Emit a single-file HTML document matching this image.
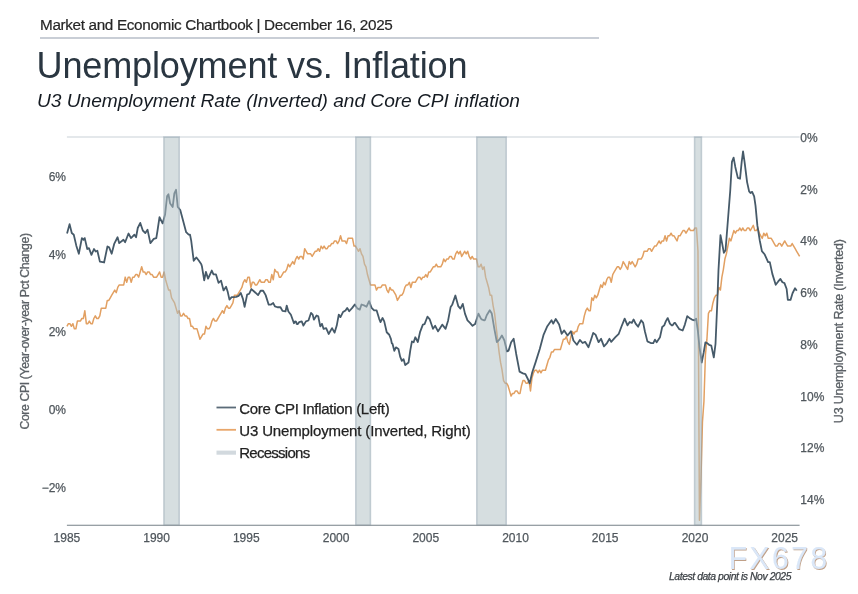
<!DOCTYPE html>
<html><head><meta charset="utf-8"><style>
html,body{margin:0;padding:0;background:#fff;}
svg{display:block;font-family:"Liberation Sans", sans-serif;will-change:transform;}
</style></head><body>
<svg width="858" height="594" viewBox="0 0 858 594">
<rect width="858" height="594" fill="#fff"/>
<text x="40.0" y="29.9" font-size="15.3" fill="#262626" stroke="#262626" stroke-width="0.2" textLength="352.8" lengthAdjust="spacing">Market and Economic Chartbook | December 16, 2025</text>
<rect x="40" y="37" width="559" height="2" fill="#c9ced6"/>
<text x="36.5" y="77.6" font-size="36.1" fill="#2a3641" textLength="431" lengthAdjust="spacing">Unemployment vs. Inflation</text>
<text x="37" y="107.4" font-size="19.2" font-style="italic" fill="#151b22" textLength="483" lengthAdjust="spacing">U3 Unemployment Rate (Inverted) and Core CPI inflation</text>
<rect x="66.9" y="136" width="732.7" height="2" fill="#e4e8eb"/>
<path d="M66.90,326.26 L68.40,323.67 L69.89,323.67 L71.39,326.26 L72.88,323.67 L74.38,328.84 L75.87,328.84 L77.37,321.08 L78.86,321.08 L80.36,321.08 L81.85,318.50 L83.35,318.50 L84.84,310.74 L86.34,323.67 L87.84,323.67 L89.33,321.08 L90.83,323.67 L92.32,323.67 L93.82,318.50 L95.31,315.91 L96.81,318.50 L98.30,318.50 L99.80,315.91 L101.29,308.16 L102.79,308.16 L104.29,308.16 L105.78,308.16 L107.28,300.40 L108.77,300.40 L110.27,297.81 L111.76,295.23 L113.26,292.64 L114.75,290.06 L116.25,292.64 L117.74,287.47 L119.24,284.88 L120.74,284.88 L122.23,284.88 L123.73,284.88 L125.22,277.13 L126.72,282.30 L128.21,277.13 L129.71,277.13 L131.20,282.30 L132.70,277.13 L134.19,277.13 L135.69,274.54 L137.18,274.54 L138.68,277.13 L140.18,271.96 L141.67,266.78 L143.17,271.96 L144.66,271.96 L146.16,274.54 L147.65,271.96 L149.15,271.96 L150.64,274.54 L152.14,274.54 L153.63,277.13 L155.13,277.13 L156.62,277.13 L158.12,274.54 L159.62,271.96 L161.11,277.13 L162.61,277.13 L164.10,271.96 L165.60,279.71 L167.09,284.88 L168.59,290.06 L170.08,290.06 L171.58,297.81 L173.07,300.40 L174.57,302.98 L176.07,308.16 L177.56,313.33 L179.06,310.74 L180.55,315.91 L182.05,315.91 L183.54,313.33 L185.04,315.91 L186.53,315.91 L188.03,318.50 L189.52,318.50 L191.02,326.26 L192.52,326.26 L194.01,328.84 L195.51,328.84 L197.00,328.84 L198.50,334.01 L199.99,339.18 L201.49,336.60 L202.98,334.01 L204.48,334.01 L205.97,326.26 L207.47,328.84 L208.96,328.84 L210.46,326.26 L211.96,321.08 L213.45,318.50 L214.95,321.08 L216.44,321.08 L217.94,318.50 L219.43,315.91 L220.93,313.33 L222.42,310.74 L223.92,313.33 L225.41,308.16 L226.91,305.57 L228.41,308.16 L229.90,308.16 L231.40,305.57 L232.89,302.98 L234.39,295.23 L235.88,295.23 L237.38,295.23 L238.87,292.64 L240.37,290.06 L241.86,287.47 L243.36,282.30 L244.85,279.71 L246.35,282.30 L247.85,277.13 L249.34,277.13 L250.84,287.47 L252.33,282.30 L253.83,282.30 L255.32,284.88 L256.82,284.88 L258.31,282.30 L259.81,279.71 L261.30,282.30 L262.80,282.30 L264.30,282.30 L265.79,279.71 L267.29,279.71 L268.78,282.30 L270.28,282.30 L271.77,274.54 L273.27,279.71 L274.76,269.37 L276.26,271.96 L277.75,271.96 L279.25,277.13 L280.74,277.13 L282.24,274.54 L283.74,271.96 L285.23,271.96 L286.73,269.37 L288.22,264.20 L289.72,266.78 L291.21,264.20 L292.71,261.61 L294.20,264.20 L295.70,259.03 L297.19,256.44 L298.69,259.03 L300.19,256.44 L301.68,256.44 L303.18,259.03 L304.67,248.69 L306.17,251.27 L307.66,253.86 L309.16,253.86 L310.65,253.86 L312.15,256.44 L313.64,253.86 L315.14,251.27 L316.63,251.27 L318.13,248.69 L319.63,251.27 L321.12,246.10 L322.62,248.69 L324.11,246.10 L325.61,248.69 L327.10,248.69 L328.60,246.10 L330.09,246.10 L331.59,243.51 L333.08,243.51 L334.58,240.93 L336.08,240.93 L337.57,243.51 L339.07,240.93 L340.56,235.76 L342.06,240.93 L343.55,240.93 L345.05,240.93 L346.54,243.51 L348.04,238.34 L349.53,238.34 L351.03,238.34 L352.52,238.34 L354.02,246.10 L355.52,246.10 L357.01,248.69 L358.51,251.27 L360.00,248.69 L361.50,253.86 L362.99,256.44 L364.49,264.20 L365.98,266.78 L367.48,274.54 L368.97,279.71 L370.47,284.88 L371.97,284.88 L373.46,284.88 L374.96,284.88 L376.45,290.06 L377.95,287.47 L379.44,287.47 L380.94,287.47 L382.43,284.88 L383.93,284.88 L385.42,284.88 L386.92,290.06 L388.41,292.64 L389.91,287.47 L391.41,290.06 L392.90,290.06 L394.40,292.64 L395.89,295.23 L397.39,300.40 L398.88,297.81 L400.38,295.23 L401.87,295.23 L403.37,292.64 L404.86,287.47 L406.36,284.88 L407.86,284.88 L409.35,282.30 L410.85,287.47 L412.34,282.30 L413.84,282.30 L415.33,282.30 L416.83,279.71 L418.32,277.13 L419.82,277.13 L421.31,279.71 L422.81,277.13 L424.30,277.13 L425.80,274.54 L427.30,277.13 L428.79,271.96 L430.29,271.96 L431.78,269.37 L433.28,266.78 L434.77,266.78 L436.27,264.20 L437.76,266.78 L439.26,266.78 L440.75,266.78 L442.25,264.20 L443.75,259.03 L445.24,261.61 L446.74,259.03 L448.23,259.03 L449.73,256.44 L451.22,256.44 L452.72,259.03 L454.21,259.03 L455.71,253.86 L457.20,251.27 L458.70,253.86 L460.19,251.27 L461.69,256.44 L463.19,253.86 L464.68,251.27 L466.18,253.86 L467.67,251.27 L469.17,256.44 L470.66,259.03 L472.16,256.44 L473.65,259.03 L475.15,259.03 L476.64,259.03 L478.14,266.78 L479.63,266.78 L481.13,264.20 L482.63,269.37 L484.12,266.78 L485.62,277.13 L487.11,282.30 L488.61,287.47 L490.10,295.23 L491.60,295.23 L493.09,305.57 L494.59,313.33 L496.08,326.26 L497.58,339.18 L499.08,352.11 L500.57,362.46 L502.07,370.21 L503.56,380.56 L505.06,383.14 L506.55,383.14 L508.05,385.73 L509.54,390.90 L511.04,396.07 L512.53,393.48 L514.03,393.48 L515.52,390.90 L517.02,390.90 L518.52,393.48 L520.01,393.48 L521.51,385.73 L523.00,380.56 L524.50,380.56 L525.99,383.14 L527.49,383.14 L528.98,380.56 L530.48,390.90 L531.97,377.97 L533.47,372.80 L534.97,370.21 L536.46,370.21 L537.96,372.80 L539.45,370.21 L540.95,372.80 L542.44,370.21 L543.94,370.21 L545.43,370.21 L546.93,365.04 L548.42,359.87 L549.92,357.28 L551.41,352.11 L552.91,352.11 L554.41,349.53 L555.90,349.53 L557.40,349.53 L558.89,349.53 L560.39,349.53 L561.88,344.36 L563.38,339.18 L564.87,339.18 L566.37,336.60 L567.86,341.77 L569.36,344.36 L570.86,336.60 L572.35,331.43 L573.85,334.01 L575.34,331.43 L576.84,331.43 L578.33,326.26 L579.83,323.67 L581.32,323.67 L582.82,323.67 L584.31,315.91 L585.81,310.74 L587.30,308.16 L588.80,310.74 L590.30,310.74 L591.79,297.81 L593.29,300.40 L594.78,295.23 L596.28,297.81 L597.77,295.23 L599.27,290.06 L600.76,284.88 L602.26,287.47 L603.75,282.30 L605.25,284.88 L606.75,279.71 L608.24,277.13 L609.74,277.13 L611.23,282.30 L612.73,274.54 L614.22,271.96 L615.72,269.37 L617.21,266.78 L618.71,266.78 L620.20,269.37 L621.70,266.78 L623.19,261.61 L624.69,264.20 L626.19,266.78 L627.68,269.37 L629.18,261.61 L630.67,264.20 L632.17,261.61 L633.66,264.20 L635.16,266.78 L636.65,264.20 L638.15,259.03 L639.64,259.03 L641.14,259.03 L642.64,256.44 L644.13,251.27 L645.63,251.27 L647.12,251.27 L648.62,248.69 L650.11,248.69 L651.61,251.27 L653.10,248.69 L654.60,246.10 L656.09,246.10 L657.59,243.51 L659.09,240.93 L660.58,243.51 L662.08,240.93 L663.57,240.93 L665.07,235.76 L666.56,240.93 L668.06,235.76 L669.55,235.76 L671.05,233.17 L672.54,235.76 L674.04,235.76 L675.53,238.34 L677.03,240.93 L678.53,235.76 L680.02,235.76 L681.52,233.17 L683.01,230.59 L684.51,230.59 L686.00,233.17 L687.50,230.59 L688.99,228.00 L690.49,230.59 L691.98,230.59 L693.48,230.59 L694.98,228.00 L696.47,228.00 L697.97,251.27 L699.46,520.18 L700.96,478.81 L702.45,421.93 L703.95,401.24 L705.44,354.70 L706.94,339.18 L708.43,313.33 L709.93,310.74 L711.42,310.74 L712.92,302.98 L714.42,297.81 L715.91,295.23 L717.41,295.23 L718.90,287.47 L720.40,290.06 L721.89,277.13 L723.39,269.37 L724.88,259.03 L726.38,253.86 L727.87,246.10 L729.37,238.34 L730.87,240.93 L732.36,235.76 L733.86,230.59 L735.35,233.17 L736.85,230.59 L738.34,230.59 L739.84,228.00 L741.33,230.59 L742.83,228.00 L744.32,230.59 L745.82,230.59 L747.31,228.00 L748.81,228.00 L750.31,230.59 L751.80,228.00 L753.30,225.41 L754.79,230.59 L756.29,230.59 L757.78,228.00 L759.28,233.17 L760.77,235.76 L762.27,238.34 L763.76,233.17 L765.26,235.76 L766.75,233.17 L768.25,238.34 L769.75,238.34 L771.24,238.34 L772.74,240.93 L774.23,243.51 L775.73,246.10 L777.22,246.10 L778.72,243.51 L780.21,243.51 L781.71,246.10 L783.20,243.51 L784.70,240.93 L786.20,243.51 L787.69,246.10 L789.19,246.10 L790.68,246.10 L792.18,243.51 L793.67,246.10 L795.17,248.69 L796.66,251.27 L798.16,253.86 L799.65,256.44" fill="none" stroke="#e2a062" stroke-width="1.5" stroke-linejoin="round"/>
<path d="M67.05,233.54 L69.58,224.11 L71.76,233.03 L73.78,234.71 L76.31,245.66 L78.84,253.74 L81.87,238.08 L83.55,239.76 L84.73,238.08 L87.25,249.02 L88.94,248.18 L91.46,254.92 L93.99,249.02 L95.67,251.55 L97.35,250.71 L99.88,261.65 L104.09,262.49 L107.45,246.50 L109.14,247.34 L111.66,253.74 L114.19,243.97 L117.56,237.24 L119.24,243.13 L123.45,239.76 L125.13,242.29 L128.50,233.54 L131.02,238.08 L134.39,234.71 L136.07,237.24 L137.76,227.98 L140.28,222.93 L142.81,230.51 L145.33,233.03 L147.52,229.66 L150.38,243.13 L153.75,238.92 L156.28,238.08 L157.53,230.51 L159.51,217.21 L162.58,223.43 L165.10,214.51 L167.12,195.99 L168.47,194.31 L170.15,203.57 L172.68,206.94 L174.36,193.47 L176.04,189.76 L177.73,206.94 L180.25,209.97 L182.78,219.56 L186.14,232.19 L188.67,234.71 L190.02,234.71 L191.20,240.61 L193.72,260.81 L196.25,257.44 L198.77,260.47 L201.30,264.18 L202.02,266.84 L204.21,280.30 L205.89,271.89 L208.08,278.62 L211.78,270.54 L213.47,274.41 L215.99,274.41 L218.52,282.83 L221.04,280.64 L223.57,290.40 L226.09,286.70 L227.78,292.09 L229.46,299.66 L231.65,297.14 L233.67,297.14 L236.20,296.80 L238.72,295.79 L240.74,292.93 L242.93,298.82 L244.61,306.90 L247.14,294.61 L249.16,293.77 L251.35,289.06 L253.87,291.25 L258.08,295.12 L260.61,290.74 L263.13,290.74 L265.66,295.12 L268.69,304.71 L270.71,304.71 L273.23,303.03 L274.92,306.40 L277.44,307.24 L280.47,307.24 L282.49,310.94 L285.52,311.45 L286.70,305.56 L288.38,311.45 L290.91,314.81 L293.94,323.23 L295.00,321.35 L295.96,321.55 L296.68,323.87 L297.64,324.07 L299.21,322.19 L301.73,321.35 L303.42,325.56 L305.94,321.35 L308.47,320.51 L310.99,312.93 L312.68,314.61 L313.86,319.66 L316.55,315.45 L318.23,316.30 L320.25,326.40 L321.94,323.87 L323.62,328.92 L326.14,328.08 L328.67,333.97 L332.04,328.08 L334.56,332.63 L336.75,325.56 L338.77,314.61 L340.45,317.14 L342.98,312.09 L345.51,310.40 L347.19,307.88 L349.21,311.25 L352.24,307.88 L354.76,304.51 L357.29,308.38 L359.81,309.56 L361.50,304.51 L364.02,305.35 L366.55,306.70 L369.07,301.14 L371.60,307.88 L374.12,310.40 L376.65,310.40 L379.18,318.82 L380.52,322.19 L382.54,317.98 L384.23,321.35 L386.72,332.24 L389.24,334.76 L390.89,338.92 L391.80,343.23 L392.58,343.97 L394.29,350.76 L395.94,347.34 L398.47,349.02 L400.15,356.60 L401.84,360.81 L403.52,359.12 L405.20,365.02 L408.57,362.49 L410.25,350.71 L411.94,341.45 L413.62,342.29 L415.30,337.24 L417.83,341.95 L420.02,332.19 L422.88,324.61 L424.56,324.11 L427.42,316.70 L429.61,319.06 L432.98,328.82 L435.17,325.79 L438.03,331.35 L439.71,328.82 L442.24,324.61 L445.61,328.82 L448.13,320.40 L450.66,306.94 L452.34,304.41 L455.37,295.49 L458.23,306.09 L460.42,308.62 L462.78,303.91 L464.97,313.67 L467.49,320.40 L470.02,322.93 L472.54,325.79 L475.07,324.11 L478.43,313.67 L480.96,318.72 L481.68,319.46 L484.21,320.30 L485.00,320.07 L486.73,315.25 L489.76,310.20 L491.78,313.57 L494.31,328.72 L496.84,342.19 L499.36,339.66 L501.89,335.45 L504.41,340.51 L506.94,351.45 L508.62,350.61 L511.14,342.19 L513.67,338.82 L516.20,353.97 L519.56,371.65 L522.93,373.33 L525.45,374.18 L527.98,379.23 L529.66,383.43 L532.19,372.49 L535.56,362.39 L539.76,348.92 L543.64,334.61 L547.34,326.20 L551.55,320.30 L553.23,323.67 L555.76,318.96 L559.12,324.51 L561.65,333.77 L564.18,330.40 L567.54,335.45 L570.91,331.25 L573.43,340.51 L576.91,344.71 L579.86,339.92 L582.58,343.03 L585.10,341.85 L588.47,347.24 L590.99,339.66 L593.18,332.93 L595.54,334.61 L598.57,342.19 L601.09,338.82 L603.96,346.40 L606.99,343.03 L609.51,338.82 L611.20,341.85 L615.40,337.14 L618.77,333.77 L621.30,327.04 L624.66,318.62 L627.53,325.35 L629.71,321.99 L631.90,322.83 L633.59,319.46 L635.61,323.67 L638.13,326.70 L641.16,320.30 L643.18,322.83 L644.87,331.25 L647.39,341.35 L650.76,343.03 L653.28,343.03 L654.97,339.66 L656.65,342.19 L660.02,337.14 L662.21,327.04 L664.23,325.35 L665.91,321.14 L667.73,318.08 L669.92,323.55 L671.73,325.45 L672.64,325.35 L674.26,322.93 L675.00,322.83 L676.78,325.45 L679.31,329.16 L682.68,330.51 L684.87,324.61 L687.22,316.20 L689.41,317.88 L691.94,319.56 L694.46,320.40 L696.14,318.72 L697.83,330.51 L699.51,347.34 L701.70,362.49 L703.72,352.39 L705.40,342.29 L707.09,343.13 L709.11,344.81 L711.30,345.66 L713.82,357.44 L715.51,343.97 L717.19,305.25 L718.47,270.51 L720.49,235.15 L722.17,243.57 L723.86,252.83 L725.54,250.30 L730.25,190.51 L731.94,161.89 L733.62,157.68 L735.30,166.94 L737.83,177.88 L740.02,178.72 L741.70,161.89 L743.05,151.45 L744.56,161.89 L747.09,182.09 L749.11,191.35 L750.45,193.03 L752.14,191.85 L754.16,196.40 L755.51,205.66 L757.36,225.45 L759.71,240.20 L761.90,251.14 L764.76,254.51 L768.13,262.09 L769.81,262.09 L772.34,273.87 L775.71,284.81 L778.23,281.45 L780.42,278.92 L782.44,282.29 L784.46,283.13 L786.65,289.02 L787.83,299.97 L790.52,299.97 L792.54,293.23 L795.07,288.18 L796.75,290.71" fill="none" stroke="#465a69" stroke-width="1.8" stroke-linejoin="round"/>
<rect x="163.85" y="137.0" width="15.40" height="388.30" fill="rgba(178,193,197,0.53)" stroke="rgba(140,158,170,0.45)" stroke-width="1.5"/><rect x="355.75" y="137.0" width="14.70" height="388.30" fill="rgba(178,193,197,0.53)" stroke="rgba(140,158,170,0.45)" stroke-width="1.5"/><rect x="476.75" y="137.0" width="29.50" height="388.30" fill="rgba(178,193,197,0.53)" stroke="rgba(140,158,170,0.45)" stroke-width="1.5"/><rect x="694.55" y="137.0" width="6.90" height="388.30" fill="rgba(178,193,197,0.53)" stroke="rgba(140,158,170,0.45)" stroke-width="1.5"/>
<rect x="66.9" y="524.7" width="732.7" height="1.2" fill="#8d969c"/>
<text x="66" y="180.8" text-anchor="end" font-size="12.0" fill="#50575d" stroke="#50575d" stroke-width="0.25">6%</text><text x="66" y="258.5" text-anchor="end" font-size="12.0" fill="#50575d" stroke="#50575d" stroke-width="0.25">4%</text><text x="66" y="336.2" text-anchor="end" font-size="12.0" fill="#50575d" stroke="#50575d" stroke-width="0.25">2%</text><text x="66" y="413.8" text-anchor="end" font-size="12.0" fill="#50575d" stroke="#50575d" stroke-width="0.25">0%</text><text x="66" y="491.5" text-anchor="end" font-size="12.0" fill="#50575d" stroke="#50575d" stroke-width="0.25">−2%</text><text x="800.3" y="141.9" font-size="12.0" fill="#50575d" stroke="#50575d" stroke-width="0.25">0%</text><text x="800.3" y="193.6" font-size="12.0" fill="#50575d" stroke="#50575d" stroke-width="0.25">2%</text><text x="800.3" y="245.3" font-size="12.0" fill="#50575d" stroke="#50575d" stroke-width="0.25">4%</text><text x="800.3" y="297.0" font-size="12.0" fill="#50575d" stroke="#50575d" stroke-width="0.25">6%</text><text x="800.3" y="348.8" font-size="12.0" fill="#50575d" stroke="#50575d" stroke-width="0.25">8%</text><text x="800.3" y="400.5" font-size="12.0" fill="#50575d" stroke="#50575d" stroke-width="0.25">10%</text><text x="800.3" y="452.2" font-size="12.0" fill="#50575d" stroke="#50575d" stroke-width="0.25">12%</text><text x="800.3" y="503.9" font-size="12.0" fill="#50575d" stroke="#50575d" stroke-width="0.25">14%</text><text x="66.9" y="541.6" text-anchor="middle" font-size="12.0" fill="#50575d" stroke="#50575d" stroke-width="0.25">1985</text><text x="156.6" y="541.6" text-anchor="middle" font-size="12.0" fill="#50575d" stroke="#50575d" stroke-width="0.25">1990</text><text x="246.3" y="541.6" text-anchor="middle" font-size="12.0" fill="#50575d" stroke="#50575d" stroke-width="0.25">1995</text><text x="336.1" y="541.6" text-anchor="middle" font-size="12.0" fill="#50575d" stroke="#50575d" stroke-width="0.25">2000</text><text x="425.8" y="541.6" text-anchor="middle" font-size="12.0" fill="#50575d" stroke="#50575d" stroke-width="0.25">2005</text><text x="515.5" y="541.6" text-anchor="middle" font-size="12.0" fill="#50575d" stroke="#50575d" stroke-width="0.25">2010</text><text x="605.2" y="541.6" text-anchor="middle" font-size="12.0" fill="#50575d" stroke="#50575d" stroke-width="0.25">2015</text><text x="695.0" y="541.6" text-anchor="middle" font-size="12.0" fill="#50575d" stroke="#50575d" stroke-width="0.25">2020</text><text x="784.7" y="541.6" text-anchor="middle" font-size="12.0" fill="#50575d" stroke="#50575d" stroke-width="0.25">2025</text>
<text transform="translate(29.0,331.3) rotate(-90)" text-anchor="middle" font-size="12.2" fill="#5a6065" stroke="#5a6065" stroke-width="0.3" textLength="196.5" lengthAdjust="spacing">Core CPI (Year-over-year Pct Change)</text>
<text transform="translate(843.3,331.2) rotate(-90)" text-anchor="middle" font-size="12.5" fill="#5a6065" stroke="#5a6065" stroke-width="0.3" textLength="184" lengthAdjust="spacing">U3 Unemployment Rate (Inverted)</text>
<rect x="216.5" y="406.6" width="19.5" height="1.8" fill="#5b6b78"/>
<rect x="216.5" y="428.9" width="19.5" height="1.8" fill="#e8a66a"/>
<rect x="216.5" y="450.6" width="19.5" height="4.1" fill="#d2d9de"/>
<text x="239.2" y="413.8" font-size="15" fill="#222" stroke="#222" stroke-width="0.25" textLength="150.5" lengthAdjust="spacing">Core CPI Inflation (Left)</text>
<text x="239.2" y="435.8" font-size="15" fill="#222" stroke="#222" stroke-width="0.25" textLength="231.5" lengthAdjust="spacing">U3 Unemployment (Inverted, Right)</text>
<text x="239.2" y="458.3" font-size="15" fill="#222" stroke="#222" stroke-width="0.25" textLength="71" lengthAdjust="spacing">Recessions</text>
<g transform="translate(0,568.7) scale(1,1.07)">
<text x="729.5999999999999" y="0.9" font-size="30" letter-spacing="2.5" fill="#c0a088">FX678</text>
<text x="728.8" y="0" font-size="30" letter-spacing="2.5" fill="#dae7f8" stroke="#dae7f8" stroke-width="0.15">FX678</text>
</g>
<text x="669" y="580.2" font-size="10.4" font-style="italic" fill="#3a3f44" stroke="#3a3f44" stroke-width="0.25" textLength="122.5" lengthAdjust="spacing">Latest data point is Nov 2025</text>
</svg>
</body></html>
